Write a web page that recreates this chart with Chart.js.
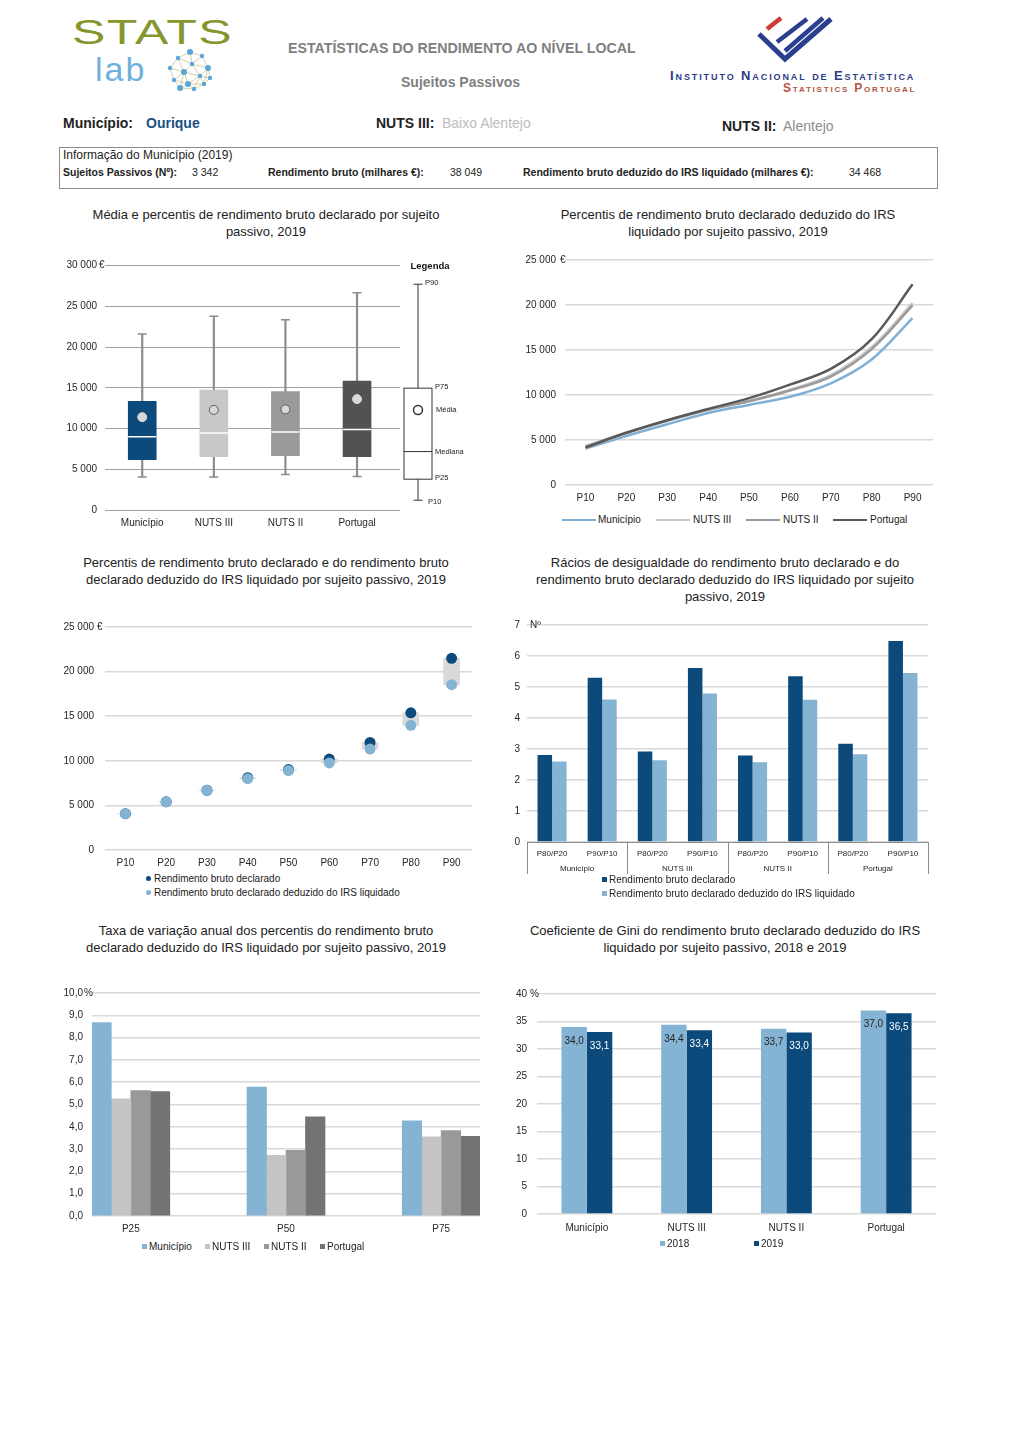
<!DOCTYPE html>
<html lang="pt">
<head>
<meta charset="utf-8">
<title>Estatísticas do Rendimento ao Nível Local - Ourique</title>
<script src="https://cdn.jsdelivr.net/npm/chart.js@4.4.1/dist/chart.umd.min.js"></script>
<style>
  html, body { margin: 0; padding: 0; background: #fff; }
  body { width: 1020px; height: 1442px; position: relative; overflow: hidden;
         font-family: 'Liberation Sans', Arial, sans-serif; color: #222; }
  .abs { position: absolute; white-space: nowrap; }
  .narrow { font-family: 'Liberation Sans Narrow', 'Liberation Sans', Arial, sans-serif; }
  .title { position: absolute; width: 480px; text-align: center; font-size: 13px; line-height: 17px; color: #222; }
  .legend { position: absolute; font-size: 10px; line-height: 14px; color: #222; white-space: nowrap; }
  .sq { display: inline-block; width: 5px; height: 5px; margin-right: 2px; vertical-align: 1px; }
  .dot { display: inline-block; width: 5px; height: 5px; border-radius: 50%; margin-right: 3px; vertical-align: 1px; }
  .ln { position: absolute; width: 34px; height: 0; border-top: 2.5px solid; }
  canvas { position: absolute; }
</style>
</head>
<body>

<!-- cabeçalho -->
<div class="abs" style="left:72px; top:12px; font-size:35px; color:#86962e; letter-spacing:1px; transform:scaleX(1.43); transform-origin:left top;">STATS</div>
<div class="abs" style="left:95px; top:50px; font-size:34px; color:#6fb0dd; font-weight:300; letter-spacing:2px;">lab</div>
<canvas id="globe" width="48" height="44" style="left:166px; top:48px;"></canvas>

<div class="abs narrow" style="left:288px; top:40px; font-size:14.2px; font-weight:bold; color:#7f7f7f;">ESTATÍSTICAS DO RENDIMENTO AO NÍVEL LOCAL</div>
<div class="abs narrow" style="left:401px; top:74px; font-size:14px; font-weight:bold; color:#7f7f7f;">Sujeitos Passivos</div>

<canvas id="ine" width="90" height="56" style="left:748px; top:8px;"></canvas>
<div class="abs" style="left:670px; top:68px; font-size:13px; font-variant:small-caps; letter-spacing:1.9px; color:#2e3d86; font-weight:bold;">Instituto Nacional de Estatística</div>
<div class="abs" style="left:783px; top:81px; font-size:12px; font-variant:small-caps; letter-spacing:1.8px; color:#b4553f; font-weight:bold;">Statistics Portugal</div>

<div class="abs narrow" style="left:63px; top:115px; font-size:14px; font-weight:bold;">Município:</div>
<div class="abs narrow" style="left:146px; top:115px; font-size:14px; font-weight:bold; color:#1a4f86;">Ourique</div>
<div class="abs narrow" style="left:376px; top:115px; font-size:14px; font-weight:bold;">NUTS III:</div>
<div class="abs narrow" style="left:442px; top:115px; font-size:14px; color:#bdbdbd;">Baixo Alentejo</div>
<div class="abs narrow" style="left:722px; top:118px; font-size:14px; font-weight:bold;">NUTS II:</div>
<div class="abs narrow" style="left:783px; top:118px; font-size:14px; color:#8c8c8c;">Alentejo</div>

<div class="abs" style="left:59px; top:147px; width:877px; height:40px; border:1px solid #8c8c8c;"></div>
<div class="abs narrow" style="left:63px; top:148px; font-size:12px;">Informação do Município (2019)</div>
<div class="abs narrow" style="left:63px; top:166px; font-size:10.5px; font-weight:bold;">Sujeitos Passivos (Nº):</div>
<div class="abs narrow" style="left:192px; top:166px; font-size:10.5px;">3 342</div>
<div class="abs narrow" style="left:268px; top:166px; font-size:10.5px; font-weight:bold;">Rendimento bruto (milhares €):</div>
<div class="abs narrow" style="left:450px; top:166px; font-size:10.5px;">38 049</div>
<div class="abs narrow" style="left:523px; top:166px; font-size:10.5px; font-weight:bold;">Rendimento bruto deduzido do IRS liquidado (milhares €):</div>
<div class="abs narrow" style="left:849px; top:166px; font-size:10.5px;">34 468</div>

<!-- títulos -->
<div class="title" style="left:26px; top:206px;">Média e percentis de rendimento bruto declarado por sujeito<br>passivo, 2019</div>
<div class="title" style="left:488px; top:206px;">Percentis de rendimento bruto declarado deduzido do IRS<br>liquidado por sujeito passivo, 2019</div>
<div class="title" style="left:26px; top:554px;">Percentis de rendimento bruto declarado e do rendimento bruto<br>declarado deduzido do IRS liquidado por sujeito passivo, 2019</div>
<div class="title" style="left:485px; top:554px;">Rácios de desigualdade do rendimento bruto declarado e do<br>rendimento bruto declarado deduzido do IRS liquidado por sujeito<br>passivo, 2019</div>
<div class="title" style="left:26px; top:922px;">Taxa de variação anual dos percentis do rendimento bruto<br>declarado deduzido do IRS liquidado por sujeito passivo, 2019</div>
<div class="title" style="left:485px; top:922px;">Coeficiente de Gini do rendimento bruto declarado deduzido do IRS<br>liquidado por sujeito passivo, 2018 e 2019</div>

<canvas id="c1" width="420" height="282" style="left:55px; top:250px;"></canvas>
<canvas id="c2" width="425" height="265" style="left:515px; top:245px;"></canvas>
<canvas id="c3" width="425" height="262" style="left:55px; top:610px;"></canvas>
<canvas id="c4" width="430" height="270" style="left:505px; top:612px;"></canvas>
<canvas id="c5" width="435" height="260" style="left:50px; top:978px;"></canvas>
<canvas id="c6" width="440" height="258" style="left:500px; top:978px;"></canvas>

<!-- legendas -->
<span class="ln" style="left:562px; top:519px; border-color:#7fb1d8"></span><span class="legend" style="left:598px; top:513px;">Município</span>
<span class="ln" style="left:656px; top:519px; border-color:#c8c8c8"></span><span class="legend" style="left:693px; top:513px;">NUTS III</span>
<span class="ln" style="left:746px; top:519px; border-color:#9a9a9a"></span><span class="legend" style="left:783px; top:513px;">NUTS II</span>
<span class="ln" style="left:833px; top:519px; border-color:#595959"></span><span class="legend" style="left:870px; top:513px;">Portugal</span>

<div class="legend" style="left:146px; top:872px;">
  <div><span class="dot" style="background:#0b4a7a"></span>Rendimento bruto declarado</div>
  <div><span class="dot" style="background:#85b3d3"></span>Rendimento bruto declarado deduzido do IRS liquidado</div>
</div>
<div class="legend" style="left:602px; top:873px;">
  <div><span class="sq" style="background:#0b4a7a"></span>Rendimento bruto declarado</div>
  <div><span class="sq" style="background:#85b3d3"></span>Rendimento bruto declarado deduzido do IRS liquidado</div>
</div>
<div class="legend" style="left:142px; top:1240px;"><span class="sq" style="background:#85b3d3"></span>Município</div>
<div class="legend" style="left:205px; top:1240px;"><span class="sq" style="background:#c4c4c4"></span>NUTS III</div>
<div class="legend" style="left:264px; top:1240px;"><span class="sq" style="background:#999999"></span>NUTS II</div>
<div class="legend" style="left:320px; top:1240px;"><span class="sq" style="background:#737373"></span>Portugal</div>
<div class="legend" style="left:660px; top:1237px;"><span class="sq" style="background:#85b3d3"></span>2018</div>
<div class="legend" style="left:754px; top:1237px;"><span class="sq" style="background:#0b4a7a"></span>2019</div>

<script>
// ---- dados ----
const territorios = ['Município', 'NUTS III', 'NUTS II', 'Portugal'];

// caixa de bigodes: rendimento bruto declarado (€)
const boxP10 = [4040, 4040, 4360, 4120];
const boxP25 = [6180, 6540, 6660, 6540];
const boxMediana = [9000, 9450, 9570, 9890];
const boxMedia = [11390, 12280, 12350, 13610];
const boxP75 = [13320, 14700, 14540, 15830];
const boxP90 = [21600, 23780, 23340, 26650];

// percentis do rendimento bruto deduzido do IRS liquidado (€)
const percentis = ['P10', 'P20', 'P30', 'P40', 'P50', 'P60', 'P70', 'P80', 'P90'];
const dedMunicipio = [4050, 5450, 6750, 8000, 8900, 9800, 11300, 13950, 18550];
const dedNuts3 = [4100, 5750, 7100, 8350, 9350, 10600, 12200, 15300, 20200];
const dedNuts2 = [4300, 5800, 7150, 8350, 9300, 10500, 12050, 15100, 19950];
const dedPortugal = [4150, 5800, 7200, 8450, 9650, 11150, 12900, 16200, 22300];

// município: bruto vs. deduzido (€)
const brutoDeclarado = [4070, 5400, 6700, 8100, 9020, 10200, 12050, 15380, 21490];
const brutoDeduzido = [4070, 5400, 6690, 7990, 8910, 9760, 11320, 13980, 18530];

// rácios de desigualdade (Nº)
const racioLabels = ['P80/P20', 'P90/P10', 'P80/P20', 'P90/P10', 'P80/P20', 'P90/P10', 'P80/P20', 'P90/P10'];
const racioBruto = [2.81, 5.30, 2.92, 5.61, 2.79, 5.35, 3.17, 6.48];
const racioDeduzido = [2.60, 4.60, 2.64, 4.79, 2.57, 4.59, 2.83, 5.45];

// taxa de variação anual (%)
const varLabels = ['P25', 'P50', 'P75'];
const varMunicipio = [8.67, 5.78, 4.27];
const varNuts3 = [5.25, 2.72, 3.55];
const varNuts2 = [5.62, 2.94, 3.83];
const varPortugal = [5.58, 4.45, 3.57];

// coeficiente de Gini (%)
const gini2018 = [34.0, 34.4, 33.7, 37.0];
const gini2019 = [33.1, 33.4, 33.0, 36.5];

// ---- configuração geral ----
Chart.defaults.font.family = "'Liberation Sans', Arial, sans-serif";
Chart.defaults.font.size = 10;
Chart.defaults.color = '#262626';
Chart.defaults.animation = false;
Chart.defaults.plugins.legend.display = false;
Chart.defaults.plugins.tooltip.enabled = false;

const AZUL = '#0b4a7a';
const AZUL_CLARO = '#85b3d3';

function milhares(v) {
    return String(v).replace(/\B(?=(\d{3})+(?!\d))/g, ' ');
}

function decimal(v, casas) {
    return v.toFixed(casas).replace('.', ',');
}

function eixoY(max, passo, largura, pad, fmt, cor, espessura) {
    return {
        min: 0,
        max: max,
        ticks: { stepSize: passo, padding: pad, callback: fmt },
        grid: { color: cor, lineWidth: espessura, drawTicks: false },
        border: { display: false },
        afterFit: s => { s.width = largura; }
    };
}

// eixo x sem marcas, altura fixa
function eixoX(altura, pad, extra) {
    return Object.assign({
        grid: { display: false, drawTicks: false },
        border: { display: false },
        ticks: { padding: pad, autoSkip: false, maxRotation: 0 },
        afterFit: s => { s.height = altura; }
    }, extra || {});
}

// unidade desenhada à direita da etiqueta do topo (€, %, Nº)
function unidade(texto, dx) {
    return {
        id: 'unidade',
        afterDraw(chart) {
            const c = chart.ctx;
            const y = chart.scales.y;
            c.save();
            c.font = "10px 'Liberation Sans', Arial, sans-serif";
            c.fillStyle = '#262626';
            c.textAlign = 'left';
            c.textBaseline = 'middle';
            c.fillText(texto, chart.chartArea.left + dx, y.getPixelForValue(y.max));
            c.restore();
        }
    };
}

// ---- logótipos ----
function desenharLogos() {
    const g = document.getElementById('globe').getContext('2d');
    const nos = [[24, 4], [36, 8], [12, 10], [42, 20], [4, 20], [26, 16], [18, 24], [34, 28],
                 [8, 32], [22, 36], [38, 36], [28, 41], [14, 40], [44, 30]];
    g.strokeStyle = '#b7b36a';
    g.lineWidth = 0.6;
    nos.forEach((a, i) => nos.forEach((b, j) => {
        if (j > i && Math.hypot(a[0] - b[0], a[1] - b[1]) < 17) {
            g.beginPath(); g.moveTo(a[0], a[1]); g.lineTo(b[0], b[1]); g.stroke();
        }
    }));
    g.fillStyle = '#5aa6dc';
    nos.forEach((n, i) => { g.beginPath(); g.arc(n[0], n[1], i % 3 === 0 ? 3 : 2.2, 0, Math.PI * 2); g.fill(); });

    const c = document.getElementById('ine').getContext('2d');
    c.lineCap = 'butt';
    c.lineWidth = 4.5;
    c.strokeStyle = '#d03a32';
    c.beginPath(); c.moveTo(19, 21); c.lineTo(33, 10); c.stroke();
    c.strokeStyle = '#2b3f8f';
    c.beginPath(); c.moveTo(29, 34); c.lineTo(59, 11); c.stroke();
    c.beginPath(); c.moveTo(37, 43); c.lineTo(75, 10); c.stroke();
    c.lineWidth = 5;
    c.beginPath(); c.moveTo(11, 26); c.lineTo(37, 51); c.lineTo(83, 11); c.stroke();
}
desenharLogos();

// ---- 1. caixa de bigodes ----
const legendaCaixa = {
    id: 'legendaCaixa',
    afterDraw(chart) {
        const c = chart.ctx;
        const y = chart.scales.y;
        const x0 = chart.chartArea.right + 18;
        const py = v => y.getPixelForValue(v);
        c.save();
        c.font = "bold 9.5px 'Liberation Sans', Arial, sans-serif";
        c.fillStyle = '#111';
        c.textAlign = 'center';
        c.textBaseline = 'middle';
        c.fillText('Legenda', x0 + 12, 16);
        c.strokeStyle = '#333';
        c.lineWidth = 1;
        c.beginPath();
        c.moveTo(x0, py(27700)); c.lineTo(x0, py(1200));
        c.moveTo(x0 - 4.5, py(27700)); c.lineTo(x0 + 4.5, py(27700));
        c.moveTo(x0 - 4.5, py(1200)); c.lineTo(x0 + 4.5, py(1200));
        c.stroke();
        c.fillStyle = '#fff';
        c.fillRect(x0 - 14, py(14950), 28, py(3780) - py(14950));
        c.strokeRect(x0 - 14, py(14950), 28, py(3780) - py(14950));
        c.beginPath(); c.moveTo(x0 - 14, py(7170)); c.lineTo(x0 + 14, py(7170)); c.stroke();
        c.lineWidth = 1.5;
        c.beginPath(); c.arc(x0, py(12270), 4.5, 0, Math.PI * 2); c.stroke();
        c.font = "7.5px 'Liberation Sans', Arial, sans-serif";
        c.fillStyle = '#222';
        c.textAlign = 'left';
        c.fillText('P90', x0 + 7, py(27800));
        c.fillText('P75', x0 + 17, py(15100));
        c.fillText('Média', x0 + 18, py(12270));
        c.fillText('Mediana', x0 + 17, py(7170));
        c.fillText('P25', x0 + 17, py(3900));
        c.fillText('P10', x0 + 10, py(1000));
        c.restore();
    }
};

new Chart(document.getElementById('c1'), {
    type: 'bar',
    data: {
        datasets: [
            {
                label: 'P10-P90',
                data: territorios.map((t, i) => ({ x: i, y: [boxP10[i], boxP90[i]] })),
                backgroundColor: '#8c8c8c',
                grouped: false, categoryPercentage: 1, barPercentage: 1, maxBarThickness: 1.5,
                order: 5
            },
            {
                type: 'line',
                label: 'extremos',
                data: territorios.map((t, i) => ({ x: i, y: boxP10[i] }))
                    .concat(territorios.map((t, i) => ({ x: i, y: boxP90[i] }))),
                showLine: false, pointStyle: 'line', pointRadius: 4.5,
                pointBorderColor: '#8c8c8c', pointBorderWidth: 1.5,
                order: 4
            },
            {
                label: 'P25-P75',
                data: territorios.map((t, i) => ({ x: i, y: [boxP25[i], boxP75[i]] })),
                backgroundColor: [AZUL, '#c8c8c8', '#9a9a9a', '#525252'],
                grouped: false, categoryPercentage: 1, barPercentage: 1, maxBarThickness: 28,
                order: 3
            },
            {
                type: 'line',
                label: 'Mediana',
                data: territorios.map((t, i) => ({ x: i, y: boxMediana[i] })),
                showLine: false, pointStyle: 'line', pointRadius: 14,
                pointBorderColor: '#ffffff', pointBorderWidth: 1.5,
                order: 2
            },
            {
                type: 'line',
                label: 'Média',
                data: territorios.map((t, i) => ({ x: i, y: boxMedia[i] })),
                showLine: false, pointStyle: 'circle', pointRadius: 4.5,
                pointBackgroundColor: '#d9d9d9',
                pointBorderColor: ['#d9d9d9', '#595959', '#595959', '#d9d9d9'],
                pointBorderWidth: 1,
                order: 1
            }
        ]
    },
    options: {
        responsive: false,
        layout: { padding: { top: 10, right: 75 } },
        scales: {
            x: eixoX(22, 7, {
                type: 'linear', min: -0.52, max: 3.6, offset: false,
                afterBuildTicks: s => { s.ticks = territorios.map((t, i) => ({ value: i })); },
                ticks: { callback: v => territorios[v] ?? '', padding: 7, autoSkip: false, maxRotation: 0 }
            }),
            y: eixoY(30000, 5000, 50, 8, v => milhares(v), '#a0a0a0', 1)
        }
    },
    plugins: [unidade('€', -6), legendaCaixa]
});

// ---- 2. linhas de percentis ----
new Chart(document.getElementById('c2'), {
    type: 'line',
    data: {
        labels: percentis,
        datasets: [
            { label: 'Município', data: dedMunicipio, borderColor: '#7fb1d8', order: 4 },
            { label: 'NUTS III', data: dedNuts3, borderColor: '#c8c8c8', order: 3 },
            { label: 'NUTS II', data: dedNuts2, borderColor: '#9a9a9a', order: 2 },
            { label: 'Portugal', data: dedPortugal, borderColor: '#595959', order: 1 }
        ].map(d => Object.assign(d, { borderWidth: 2.5, pointRadius: 0, tension: 0.35, fill: false }))
    },
    options: {
        responsive: false,
        layout: { padding: { top: 10, right: 7 } },
        scales: {
            x: eixoX(25, 7, { offset: true }),
            y: eixoY(25000, 5000, 50, 9, v => milhares(v), '#d9d9d9', 1.5)
        }
    },
    plugins: [unidade('€', -5)]
});

// ---- 3. bruto vs. deduzido ----
new Chart(document.getElementById('c3'), {
    type: 'bar',
    data: {
        labels: percentis,
        datasets: [
            {
                label: 'diferença',
                data: percentis.map((p, i) => [brutoDeduzido[i], brutoDeclarado[i]]),
                backgroundColor: '#d9d9d9', barThickness: 16, order: 3
            },
            {
                type: 'line', label: 'Rendimento bruto declarado', data: brutoDeclarado,
                showLine: false, pointRadius: 5.5, pointBackgroundColor: AZUL, pointBorderColor: AZUL,
                pointBorderWidth: 0, order: 2
            },
            {
                type: 'line', label: 'Rendimento bruto declarado deduzido do IRS liquidado', data: brutoDeduzido,
                showLine: false, pointRadius: 5.5, pointBackgroundColor: AZUL_CLARO, pointBorderColor: AZUL_CLARO,
                pointBorderWidth: 0, order: 1
            }
        ]
    },
    options: {
        responsive: false,
        layout: { padding: { top: 10, right: 8 } },
        scales: {
            x: eixoX(22, 7),
            y: eixoY(25000, 5000, 50, 11, v => milhares(v), '#d9d9d9', 1.5)
        }
    },
    plugins: [unidade('€', -8)]
});

// ---- 4. rácios de desigualdade ----
const grupos = {
    id: 'grupos',
    afterDraw(chart) {
        const c = chart.ctx;
        const x = chart.scales.x;
        const area = chart.chartArea;
        const meio = i => (x.getPixelForValue(i) + x.getPixelForValue(i + 1)) / 2;
        c.save();
        c.strokeStyle = '#8c8c8c';
        c.lineWidth = 1;
        const cortes = [area.left, meio(1), meio(3), meio(5), area.right];
        c.beginPath();
        cortes.forEach(px => { c.moveTo(Math.round(px) + 0.5, area.bottom); c.lineTo(Math.round(px) + 0.5, area.bottom + 32); });
        c.stroke();
        c.font = "8px 'Liberation Sans', Arial, sans-serif";
        c.fillStyle = '#262626';
        c.textAlign = 'center';
        c.textBaseline = 'middle';
        territorios.forEach((t, i) => c.fillText(t, meio(i * 2), area.bottom + 27));
        c.restore();
    }
};

new Chart(document.getElementById('c4'), {
    type: 'bar',
    data: {
        labels: racioLabels,
        datasets: [
            { label: 'Rendimento bruto declarado', data: racioBruto, backgroundColor: AZUL },
            { label: 'Rendimento bruto declarado deduzido do IRS liquidado', data: racioDeduzido, backgroundColor: AZUL_CLARO }
        ]
    },
    options: {
        responsive: false,
        layout: { padding: { top: 10, right: 7 } },
        datasets: { bar: { categoryPercentage: 0.58, barPercentage: 1 } },
        scales: {
            x: eixoX(40, 7, {
                border: { display: true, color: '#8c8c8c' },
                ticks: { padding: 7, autoSkip: false, maxRotation: 0, font: { size: 8 } }
            }),
            y: eixoY(7, 1, 22, 7, v => v, '#d9d9d9', 1.5)
        }
    },
    plugins: [unidade('Nº', 3), grupos]
});

// ---- 5. taxa de variação anual ----
new Chart(document.getElementById('c5'), {
    type: 'bar',
    data: {
        datasets: [
            { label: 'Município', data: varMunicipio, backgroundColor: AZUL_CLARO },
            { label: 'NUTS III', data: varNuts3, backgroundColor: '#c4c4c4' },
            { label: 'NUTS II', data: varNuts2, backgroundColor: '#999999' },
            { label: 'Portugal', data: varPortugal, backgroundColor: '#737373' }
        ].map(d => Object.assign(d, {
            data: d.data.map((v, i) => ({ x: i, y: v })),
            barThickness: 19.5
        }))
    },
    options: {
        responsive: false,
        layout: { padding: { top: 10, right: 5 } },
        scales: {
            x: eixoX(22, 7, {
                type: 'linear', min: -0.25, max: 2.25, offset: false,
                afterBuildTicks: s => { s.ticks = varLabels.map((l, i) => ({ value: i })); },
                ticks: { callback: v => varLabels[v] ?? '', padding: 7, autoSkip: false, maxRotation: 0 }
            }),
            y: eixoY(10, 1, 42, 9, v => decimal(v, 1), '#d9d9d9', 1.5)
        }
    },
    plugins: [unidade('%', -8)]
});

// ---- 6. coeficiente de Gini ----
const rotulosGini = {
    id: 'rotulosGini',
    afterDatasetsDraw(chart) {
        const c = chart.ctx;
        c.save();
        c.font = "10px 'Liberation Sans', Arial, sans-serif";
        c.textAlign = 'center';
        c.textBaseline = 'middle';
        chart.data.datasets.forEach((ds, k) => {
            c.fillStyle = k === 0 ? '#262626' : '#ffffff';
            chart.getDatasetMeta(k).data.forEach((bar, i) => {
                c.fillText(decimal(ds.data[i], 1), bar.x, bar.y + 14);
            });
        });
        c.restore();
    }
};

new Chart(document.getElementById('c6'), {
    type: 'bar',
    data: {
        labels: territorios,
        datasets: [
            { label: '2018', data: gini2018, backgroundColor: AZUL_CLARO },
            { label: '2019', data: gini2019, backgroundColor: AZUL }
        ]
    },
    options: {
        responsive: false,
        layout: { padding: { top: 9, right: 4 } },
        datasets: { bar: { categoryPercentage: 0.51, barPercentage: 1 } },
        scales: {
            x: eixoX(22, 8),
            y: eixoY(40, 5, 37, 10, v => v, '#d9d9d9', 1.5)
        }
    },
    plugins: [unidade('%', -7), rotulosGini]
});
</script>
</body>
</html>
